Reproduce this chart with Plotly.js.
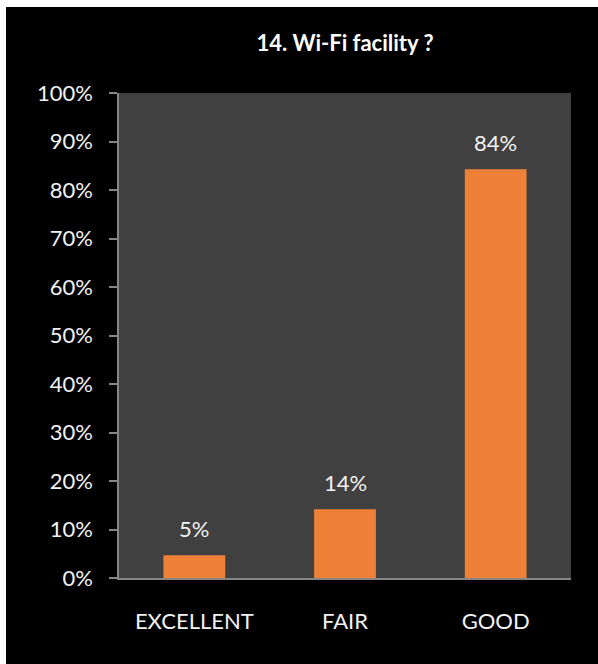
<!DOCTYPE html>
<html>
<head>
<meta charset="utf-8">
<script src="https://cdn.plot.ly/plotly-3.0.1.min.js"></script>
<style>
  html, body { margin: 0; padding: 0; background: #ffffff; }
  #chart { position: absolute; left: 6px; top: 7px; width: 592px; height: 657px; }
</style>
</head>
<body>
<div id="chart"></div>
<script>
var categories = ['EXCELLENT', 'FAIR', 'GOOD'];
var shares = [0.047, 0.142, 0.843];
var shareLabels = ['5%', '14%', '84%'];
var yTickValues = [0, 0.1, 0.2, 0.3, 0.4, 0.5, 0.6, 0.7, 0.8, 0.9, 1];
var yTickLabels = ['0%', '10%', '20%', '30%', '40%', '50%', '60%', '70%', '80%', '90%', '100%'];

function initWifiChart() {
  var font = 'Lato, "Open Sans", sans-serif';

  var barTrace = {
    type: 'bar',
    x: categories,
    y: shares,
    marker: {color: '#ef8037'},
    hoverinfo: 'skip'
  };

  var labels = categories.map(function (c, i) {
    return {
      x: c, y: shares[i], xref: 'x', yref: 'y',
      text: shareLabels[i], showarrow: false,
      yanchor: 'bottom', yshift: 11,
      font: {family: font, size: 22, color: '#f2f2f2'}
    };
  });

  var layout = {
    width: 592,
    height: 657,
    margin: {l: 113, r: 27, t: 86, b: 86},
    paper_bgcolor: '#000000',
    plot_bgcolor: '#404040',
    showlegend: false,
    bargap: 0.59,
    title: {
      text: '<b>14. Wi-Fi facility ?</b>',
      x: 0.5, xref: 'paper', y: 0.945, yanchor: 'middle',
      font: {family: font, size: 22, color: '#ffffff'}
    },
    xaxis: {
      showline: true, linecolor: '#868686', linewidth: 1.5,
      ticks: '', showgrid: false, zeroline: false,
      ticklabelstandoff: 23,
      tickfont: {family: font, size: 22, color: '#f2f2f2'}
    },
    yaxis: {
      range: [0, 1],
      tickvals: yTickValues, ticktext: yTickLabels,
      showline: true, linecolor: '#868686', linewidth: 1.5,
      ticks: 'outside', ticklen: 8, tickcolor: '#868686', tickwidth: 1.5,
      showgrid: false, zeroline: false,
      ticklabelstandoff: 12,
      tickfont: {family: font, size: 22, color: '#f2f2f2'}
    },
    annotations: labels
  };

  Plotly.newPlot(document.getElementById('chart'), [barTrace], layout, {displayModeBar: false});
}

initWifiChart();
</script>
</body>
</html>
